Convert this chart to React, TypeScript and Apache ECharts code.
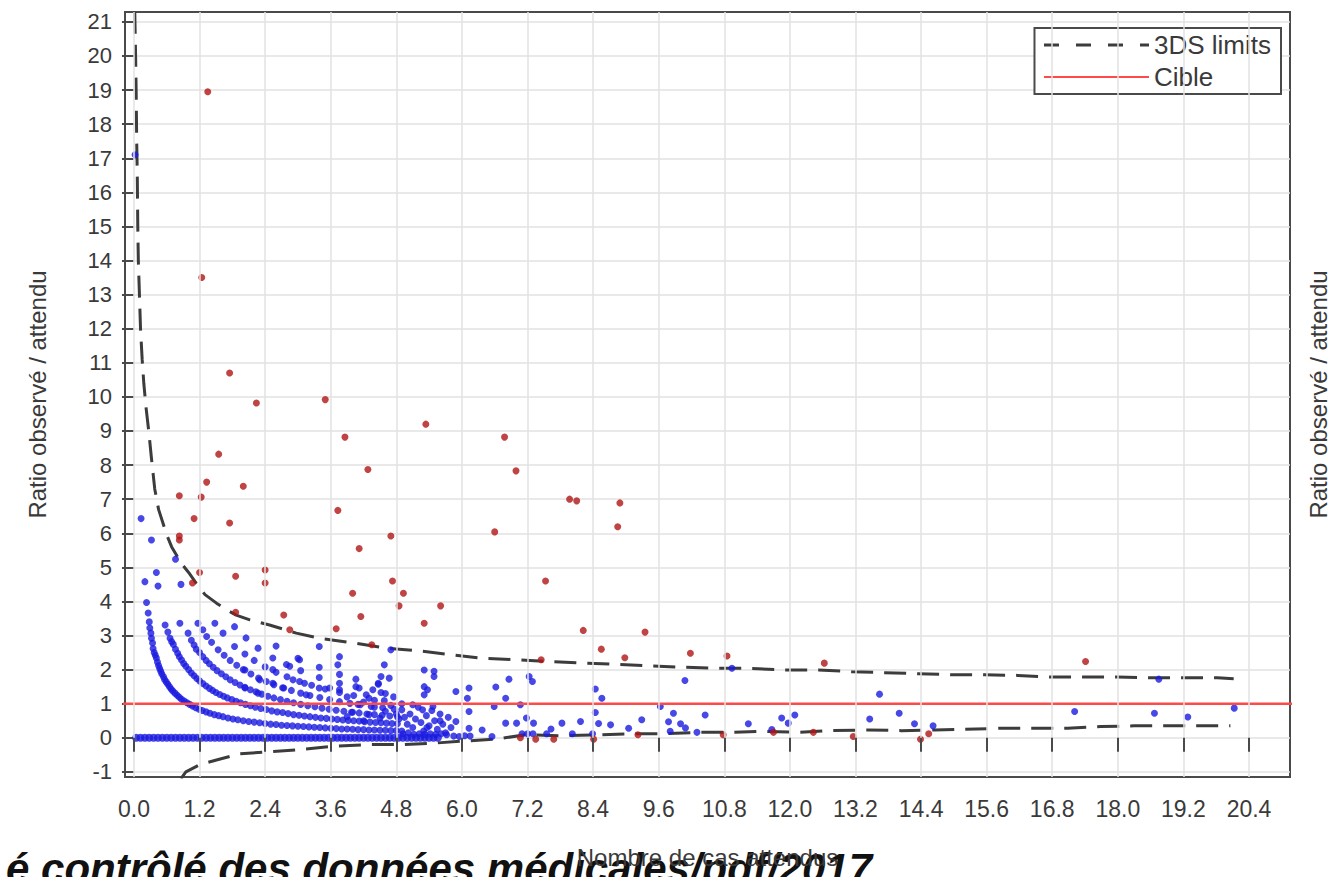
import React, { useEffect, useRef } from "react";
import * as echarts from "echarts";

// ---- axis ticks ----
const xTicks = [0.0, 1.2, 2.4, 3.6, 4.8, 6.0, 7.2, 8.4, 9.6, 10.8, 12.0, 13.2, 14.4, 15.6, 16.8, 18.0, 19.2, 20.4];
const yTicks = [-1, 0, 1, 2, 3, 4, 5, 6, 7, 8, 9, 10, 11, 12, 13, 14, 15, 16, 17, 18, 19, 20, 21];

// ---- reference (Cible) ----
const cibleRatio = 1;
const cibleX = [-0.3, 21.3];

// ---- 3DS limits ----
const upperLimit = [
  [0.015, 21.3], [0.03, 20.0], [0.04, 19.0], [0.05, 17.5], [0.06, 16.6], [0.07, 15.0], [0.08, 14.0],
  [0.1, 13.0], [0.12, 12.0], [0.15, 11.1], [0.18, 10.4], [0.22, 9.7], [0.27, 9.0], [0.32, 8.2],
  [0.38, 7.3], [0.45, 6.7], [0.53, 6.3], [0.6, 5.95], [0.69, 5.6], [0.8, 5.3], [0.9, 5.05], [1.0, 4.85],
  [1.14, 4.53], [1.3, 4.2], [1.51, 3.95], [1.7, 3.75], [1.87, 3.6], [2.12, 3.46], [2.48, 3.31],
  [2.97, 3.07], [3.39, 2.92], [4.06, 2.77], [4.61, 2.63], [5.22, 2.55], [5.83, 2.43], [6.37, 2.33],
  [7.01, 2.29], [7.59, 2.24], [8.2, 2.19], [8.81, 2.16], [9.48, 2.11], [10.02, 2.07], [10.69, 2.04],
  [11.24, 2.04], [11.91, 1.99], [12.52, 1.99], [13.13, 1.94], [13.73, 1.91], [14.34, 1.88],
  [14.95, 1.85], [15.56, 1.85], [16.17, 1.83], [16.78, 1.78], [17.38, 1.78], [17.99, 1.78],
  [18.6, 1.76], [19.21, 1.76], [19.82, 1.76], [20.12, 1.73],
];
const lowerLimit = [
  [0.86, -1.2], [0.95, -1.0], [1.2, -0.79], [1.51, -0.65], [1.93, -0.47], [2.54, -0.4], [3.03, -0.35],
  [3.64, -0.25], [4.31, -0.2], [4.91, -0.2], [5.46, -0.16], [6.0, -0.1], [6.62, -0.04], [7.17, 0.09],
  [7.8, 0.06], [8.52, 0.09], [9.12, 0.12], [9.73, 0.12], [10.33, 0.16], [10.94, 0.16], [11.55, 0.19],
  [12.15, 0.16], [12.76, 0.21], [13.43, 0.23], [14.04, 0.21], [14.65, 0.23], [15.19, 0.25],
  [15.86, 0.28], [16.47, 0.28], [17.08, 0.28], [17.69, 0.33], [18.3, 0.35], [18.9, 0.35],
  [19.51, 0.35], [20.06, 0.35],
];

// ---- hospitals inside the limits (blue) ----
const zeroRatioX = [
  0.04, 0.12, 0.2, 0.28, 0.36, 0.44, 0.52, 0.6, 0.68, 0.76, 0.84, 0.92, 1.0, 1.08, 1.16, 1.24, 1.32, 1.4,
  1.48, 1.56, 1.64, 1.72, 1.8, 1.88, 1.96, 2.04, 2.12, 2.2, 2.28, 2.36, 2.44, 2.52, 2.6, 2.68, 2.76, 2.84,
  2.92, 3.0, 3.08, 3.16, 3.24, 3.32, 3.4, 3.48, 3.56, 3.64, 3.72, 3.8, 3.88, 3.96, 4.04, 4.12, 4.2, 4.28,
  4.36, 4.44, 4.52, 4.6, 4.68, 4.76, 4.84, 4.92, 5.0, 5.08, 5.16, 5.24, 5.32, 5.4, 5.48, 5.56,
];
const blueObs1 = [
  [0.23, 3.97], [0.26, 3.66], [0.28, 3.4], [0.29, 3.22], [0.31, 3.07], [0.32, 2.92], [0.34, 2.78],
  [0.35, 2.62], [0.37, 2.5], [0.39, 2.42], [0.41, 2.34], [0.43, 2.22], [0.45, 2.12], [0.47, 2.03],
  [0.49, 1.95], [0.51, 1.87], [0.54, 1.79], [0.56, 1.71], [0.59, 1.64], [0.62, 1.57], [0.65, 1.5],
  [0.68, 1.43], [0.71, 1.37], [0.75, 1.31], [0.79, 1.25], [0.83, 1.19], [0.87, 1.13], [0.92, 1.08],
  [0.97, 1.03], [1.02, 0.98], [1.07, 0.93], [1.13, 0.88], [1.19, 0.84], [1.25, 0.8], [1.32, 0.76],
  [1.39, 0.72], [1.47, 0.68], [1.55, 0.65], [1.63, 0.62], [1.72, 0.58], [1.81, 0.55], [1.9, 0.53],
  [2.0, 0.5], [2.1, 0.48], [2.2, 0.46], [2.3, 0.44], [2.4, 0.42], [2.5, 0.4], [2.6, 0.39], [2.7, 0.37],
  [2.8, 0.36], [2.9, 0.35], [3.0, 0.34], [3.1, 0.33], [3.2, 0.32], [3.3, 0.31], [3.4, 0.3], [3.5, 0.29],
  [3.6, 0.28], [3.7, 0.27], [3.8, 0.26], [3.9, 0.26], [4.0, 0.25], [4.1, 0.24], [4.2, 0.24], [4.3, 0.23],
  [4.4, 0.23], [4.5, 0.22], [4.6, 0.22], [4.7, 0.21], [4.8, 0.21], [4.9, 0.2],
];
const blueObs2 = [
  [0.57, 3.31], [0.62, 3.1], [0.66, 2.92], [0.69, 2.82], [0.72, 2.74], [0.76, 2.6], [0.8, 2.48],
  [0.83, 2.38], [0.87, 2.28], [0.91, 2.18], [0.95, 2.1], [1.0, 2.0], [1.05, 1.9], [1.1, 1.82],
  [1.15, 1.74], [1.2, 1.67], [1.26, 1.59], [1.32, 1.52], [1.38, 1.45], [1.44, 1.39], [1.5, 1.33],
  [1.57, 1.27], [1.64, 1.22], [1.71, 1.17], [1.79, 1.12], [1.87, 1.07], [1.95, 1.03], [2.04, 0.98],
  [2.13, 0.94], [2.22, 0.9], [2.32, 0.86], [2.42, 0.83], [2.52, 0.79], [2.62, 0.76], [2.72, 0.74],
  [2.82, 0.71], [2.92, 0.68], [3.02, 0.66], [3.12, 0.64], [3.22, 0.62], [3.32, 0.6], [3.42, 0.58],
  [3.52, 0.57], [3.62, 0.55], [3.72, 0.54], [3.82, 0.52], [3.92, 0.51], [4.02, 0.5], [4.12, 0.49],
  [4.22, 0.47], [4.32, 0.46], [4.42, 0.45], [4.52, 0.44], [4.62, 0.43], [4.72, 0.42], [4.82, 0.41],
];
const blueObs3 = [
  [0.99, 3.07], [1.05, 2.86], [1.1, 2.72], [1.14, 2.6], [1.2, 2.5], [1.26, 2.38], [1.32, 2.27],
  [1.38, 2.17], [1.45, 2.07], [1.52, 1.97], [1.6, 1.88], [1.68, 1.79], [1.76, 1.7], [1.85, 1.62],
  [1.94, 1.55], [2.03, 1.48], [2.13, 1.41], [2.23, 1.35], [2.34, 1.28], [2.45, 1.22], [2.56, 1.17],
  [2.68, 1.12], [2.8, 1.07], [2.92, 1.03], [3.05, 0.98], [3.18, 0.94], [3.31, 0.91], [3.44, 0.87],
  [3.57, 0.84], [3.7, 0.81], [3.84, 0.78], [3.98, 0.75], [4.12, 0.73], [4.26, 0.7], [4.4, 0.68],
  [4.54, 0.66], [4.68, 0.64], [4.82, 0.62],
];
const blueObs4 = [
  [1.17, 3.36], [1.26, 3.17], [1.33, 2.97], [1.42, 2.8], [1.54, 2.58], [1.65, 2.42], [1.76, 2.27],
  [1.88, 2.13], [2.0, 2.0], [2.14, 1.87], [2.28, 1.75], [2.42, 1.65], [2.56, 1.56], [2.72, 1.47],
  [2.88, 1.39], [3.05, 1.31], [3.22, 1.24], [3.4, 1.18], [3.58, 1.12], [3.76, 1.06], [3.95, 1.01],
  [4.14, 0.97], [4.34, 0.92], [4.55, 0.88], [4.76, 0.84],
];
const blueObs5to7 = [
  [1.48, 3.36], [1.63, 3.07], [1.84, 2.68], [2.03, 2.46], [2.2, 2.27], [2.4, 2.08], [2.6, 1.92],
  [2.8, 1.79], [3.03, 1.65], [3.25, 1.54], [3.5, 1.43], [3.76, 1.33], [4.02, 1.24], [4.3, 1.16], [4.58, 1.09],
  [1.84, 3.26], [2.05, 2.93], [2.27, 2.63], [2.54, 2.34], [2.79, 2.15], [3.05, 1.97], [3.39, 1.77],
  [3.76, 1.6], [4.12, 1.46], [4.52, 1.33],
  [2.6, 2.69], [3.0, 2.33], [3.39, 2.07], [3.76, 1.86], [4.06, 1.72], [4.47, 1.57],
];
const blueOther = [
  [0.02, 17.1], [0.13, 6.43], [0.32, 5.8], [0.76, 5.24], [0.41, 4.85], [0.44, 4.45], [0.86, 4.5],
  [0.2, 4.58], [0.84, 3.36],
  [2.85, 2.1], [3.03, 2.29], [3.39, 2.68], [3.76, 2.38], [3.73, 2.14], [4.58, 2.14], [4.7, 2.58],
  [4.67, 1.75], [4.52, 1.8], [4.47, 1.6], [4.37, 1.41], [4.25, 1.26], [4.06, 1.5], [3.76, 1.41],
  [3.58, 1.46], [3.39, 1.46], [3.15, 1.26], [3.12, 1.6], [2.91, 1.7], [2.74, 1.46], [2.54, 1.6],
  [2.54, 2.0], [2.3, 1.7], [2.27, 1.31], [2.03, 1.99], [2.03, 1.46],
  [3.9, 0.62], [4.0, 0.75], [4.1, 0.98], [4.2, 0.5], [4.3, 0.68], [4.4, 0.9], [4.5, 0.58], [4.6, 0.78],
  [4.7, 0.95], [4.8, 0.7], [4.85, 0.55], [4.4, 1.1], [4.6, 1.3], [4.75, 1.2], [4.9, 1.0], [3.9, 1.2],
  [4.2, 1.05],
  [4.9, 0.82], [4.95, 0.6], [5.0, 0.4], [5.05, 0.7], [5.1, 0.3], [5.15, 0.55], [5.2, 0.9], [5.25, 0.45],
  [5.3, 0.2], [5.35, 0.65], [5.4, 0.35], [5.45, 0.8], [5.5, 0.5], [5.55, 0.25], [5.6, 0.7], [5.65, 0.4],
  [5.7, 0.15], [5.75, 0.6], [5.8, 0.3], [4.92, 0.12], [5.02, 0.15], [5.12, 0.1], [5.22, 0.12],
  [5.32, 0.1], [5.42, 0.12], [5.52, 0.1], [5.62, 0.12], [5.72, 0.09], [5.1, 0.97], [5.47, 0.92], [5.28, 0.82],
  [5.31, 1.99], [5.49, 1.95], [5.37, 1.41], [5.31, 1.26], [5.49, 1.8], [5.31, 1.5],
  [5.89, 1.36], [6.13, 1.46], [6.1, 1.16], [6.13, 0.77], [6.62, 1.49], [6.86, 1.72], [6.8, 1.16],
  [6.59, 0.92], [7.07, 0.97], [7.23, 1.8], [7.29, 1.65], [8.44, 1.43], [8.56, 1.16], [8.44, 0.74],
  [8.5, 0.42], [8.72, 0.38], [8.17, 0.48], [7.83, 0.43], [7.63, 0.26], [8.02, 0.12], [8.39, 0.12],
  [9.05, 0.28], [9.29, 0.53], [9.63, 0.92], [9.87, 0.72], [9.78, 0.47], [10.0, 0.41], [10.09, 0.29],
  [10.45, 0.67], [9.81, 0.19], [10.3, 0.16], [11.24, 0.41], [11.67, 0.24], [11.85, 0.58], [12.09, 0.67],
  [11.97, 0.43], [10.94, 2.04], [10.08, 1.68], [5.89, 0.48], [5.6, 0.5], [5.36, 0.3], [6.13, 0.28],
  [6.37, 0.23], [6.8, 0.43], [7.0, 0.43], [7.18, 0.58], [7.31, 0.43],
  [5.85, 0.05], [5.95, 0.04], [6.05, 0.06], [6.15, 0.05], [6.55, 0.04], [7.1, 0.12], [7.2, 0.12],
  [7.3, 0.12], [7.55, 0.12],
  [13.64, 1.28], [13.46, 0.55], [14.0, 0.72], [14.28, 0.41], [14.62, 0.35], [17.21, 0.77],
  [18.75, 1.72], [18.67, 0.72], [19.28, 0.61], [20.13, 0.87],
];

// ---- hospitals outside the limits (red) ----
const redOutliers = [
  [1.35, 18.95], [1.24, 13.5], [1.75, 10.7], [2.24, 9.82], [3.5, 9.92], [3.86, 8.82], [5.34, 9.2],
  [6.78, 8.82], [6.99, 7.83], [4.28, 7.87], [1.55, 8.32], [1.33, 7.5], [1.23, 7.06], [0.83, 7.1],
  [2.0, 7.38], [1.1, 6.43], [1.75, 6.3], [0.83, 5.92], [0.83, 5.8], [3.73, 6.67], [4.7, 5.92],
  [4.12, 5.55], [6.6, 6.04], [7.97, 7.0], [8.1, 6.95], [8.89, 6.89], [8.85, 6.19], [1.2, 4.85],
  [1.86, 4.74], [2.4, 4.92], [2.4, 4.54], [1.07, 4.54], [4.73, 4.6], [4.0, 4.24], [4.93, 4.24],
  [4.85, 3.87], [5.61, 3.87], [5.31, 3.36], [4.15, 3.56], [3.7, 3.2], [2.74, 3.6], [2.85, 3.17],
  [1.86, 3.68], [4.35, 2.73], [7.53, 4.6], [8.22, 3.15], [9.35, 3.1], [8.55, 2.6], [8.98, 2.35],
  [10.18, 2.48], [10.85, 2.4], [12.63, 2.19], [7.45, 2.29], [17.41, 2.24], [7.07, 0.0], [7.35, -0.04],
  [7.68, -0.04], [8.41, -0.04], [9.22, 0.09], [10.78, 0.09], [11.7, 0.16], [12.43, 0.16], [13.16, 0.04],
  [14.39, -0.04], [14.54, 0.12],
];

const FONT = "'Liberation Sans', Arial, Helvetica, sans-serif";
const TXT = "#3a3a3a";
const BLUE = "#1a1ae0";

export default function App() {
  const ref = useRef<HTMLDivElement>(null);
  useEffect(() => {
    const chart = echarts.init(ref.current!, null, { renderer: "svg" });
    const zeroData = zeroRatioX.map((x) => [x, 0]);
    const blueData = [...blueObs1, ...blueObs2, ...blueObs3, ...blueObs4, ...blueObs5to7, ...blueOther];
    const option: any = {
      animation: false,
      backgroundColor: "#ffffff",
      textStyle: { fontFamily: FONT },
      grid: {
        left: 125, top: 12, width: 1168, height: 765,
        show: true, borderColor: "#4a4a4a", borderWidth: 2, backgroundColor: "#ffffff",
      },
      legend: {
        data: [
          { name: "3DS limits", lineStyle: { type: [15, 17], width: 3, color: "#3c3c3c" } },
          { name: "Cible" },
        ],
        orient: "vertical",
        right: 57, top: 28,
        itemWidth: 105, itemHeight: 2, itemGap: 6,
        padding: [4, 10, 4, 8],
        itemStyle: { opacity: 0 },
        borderColor: "#4a4a4a", borderWidth: 2, backgroundColor: "#ffffff",
        textStyle: { fontSize: 26, color: TXT, fontFamily: FONT },
        align: "left",
      },
      xAxis: {
        type: "value", min: -0.164, max: 21.15,
        name: "Nombre de cas attendus", nameLocation: "middle", nameGap: 68,
        nameTextStyle: { fontSize: 24, color: TXT, fontFamily: FONT },
        z: 5,
        axisLine: { show: false },
        axisTick: { show: true, length: 14, lineStyle: { color: "#4a4a4a", width: 2 }, customValues: xTicks },
        axisLabel: {
          customValues: xTicks, fontSize: 23, color: TXT, margin: 20, fontFamily: FONT,
          formatter: (v: number) => v.toFixed(1),
        },
        splitLine: { show: true, lineStyle: { color: "#e2e2e2", width: 1.5 } },
      },
      yAxis: [
        {
          type: "value", min: -1.15, max: 21.29,
          name: "Ratio observé / attendu", nameLocation: "middle", nameGap: 76, nameRotate: 90,
          nameTextStyle: { fontSize: 24, color: TXT, fontFamily: FONT },
          axisLine: { show: false },
          axisTick: { show: true, length: 12, lineStyle: { color: "#4a4a4a", width: 2 }, customValues: yTicks },
          axisLabel: {
            customValues: yTicks, fontSize: 22, color: TXT, margin: 13, fontFamily: FONT,
            formatter: (v: number) => String(Math.round(v)),
          },
          splitLine: { show: true, lineStyle: { color: "#e2e2e2", width: 1.5 } },
        },
        {
          type: "value", min: -1.15, max: 21.29, position: "right",
          name: "Ratio observé / attendu", nameLocation: "middle", nameGap: 16, nameRotate: 90,
          nameTextStyle: { fontSize: 24, color: TXT, fontFamily: FONT },
          axisLine: { show: false }, axisTick: { show: false }, axisLabel: { show: false },
          splitLine: { show: false },
        },
      ],
      graphic: [
        {
          type: "text", x: 872, y: 868, z: 1,
          style: {
            text: "é contrôlé des données médicales/pdf/2017",
            fontSize: 42, fontStyle: "italic", fontWeight: "bold", fontFamily: FONT, fill: "#111111",
            textAlign: "right", textVerticalAlign: "middle",
          },
        },
      ],
      series: [
        {
          name: "3DS limits", type: "line", data: upperLimit, symbol: "none", showSymbol: false,
          itemStyle: { color: "#3c3c3c" },
          lineStyle: { color: "#3c3c3c", width: 3, type: [22, 11] }, z: 2,
        },
        {
          name: "3DS limits", type: "line", data: lowerLimit, symbol: "none", showSymbol: false,
          itemStyle: { color: "#3c3c3c" },
          lineStyle: { color: "#3c3c3c", width: 3, type: [22, 11] }, z: 2,
        },
        {
          name: "Zero", type: "scatter", data: zeroData, symbol: "circle", symbolSize: 8,
          itemStyle: { color: BLUE }, z: 3,
        },
        {
          name: "Inside", type: "scatter", data: blueData, symbol: "circle", symbolSize: 7,
          itemStyle: { color: BLUE }, z: 3,
        },
        {
          name: "Outside", type: "scatter", data: redOutliers, symbol: "circle", symbolSize: 7,
          itemStyle: { color: "#b01515" }, z: 3,
        },
        {
          name: "Cible", type: "line", data: cibleX.map((x) => [x, cibleRatio]), symbol: "none",
          showSymbol: false, itemStyle: { color: "#ff4a4a" },
          lineStyle: { color: "#ff4a4a", width: 2.5 }, z: 4,
        },
      ],
    };
    chart.setOption(option);
    return () => chart.dispose();
  }, []);
  return (
    <div
      ref={ref}
      style={{ position: "fixed", left: 0, top: 0, width: 1338, height: 877, background: "#fff" }}
    />
  );
}
